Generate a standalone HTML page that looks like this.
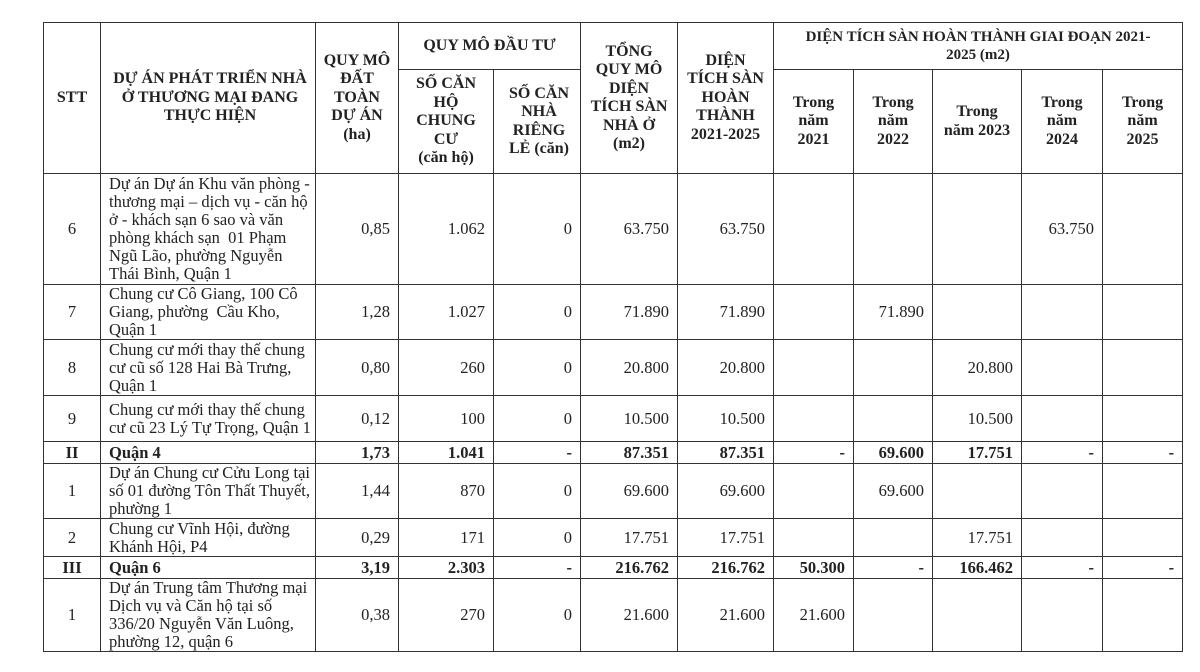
<!DOCTYPE html>
<html><head><meta charset="utf-8"><style>
html,body{margin:0;padding:0;background:#fff;width:1200px;height:672px;overflow:hidden}
table{position:absolute;left:43px;top:22px;width:1139px;border-collapse:collapse;table-layout:fixed;font-family:"Liberation Serif",serif;font-size:16.5px;color:#222;line-height:18px}
td{border:1.5px solid #333;padding:0 8px;overflow:hidden;white-space:nowrap}
td:nth-child(2){padding:0 4px 0 8px}
.h{font-weight:bold;text-align:center;font-size:16px;line-height:18.5px;padding:0 2px}
.c{text-align:center}.r{text-align:right}.b{font-weight:bold}
</style></head><body>
<table>
<colgroup><col style="width:57px"><col style="width:215px"><col style="width:83px"><col style="width:95px"><col style="width:87px"><col style="width:97px"><col style="width:96px"><col style="width:80px"><col style="width:79px"><col style="width:89px"><col style="width:81px"><col style="width:80px"></colgroup>
<tr style="height:47px"><td class="h" rowspan="2">STT</td><td class="h" rowspan="2">DỰ ÁN PHÁT TRIỂN NHÀ<br>Ở THƯƠNG MẠI ĐANG<br>THỰC HIỆN</td><td class="h" rowspan="2">QUY MÔ<br>ĐẤT<br>TOÀN<br>DỰ ÁN<br>(ha)</td><td class="h" colspan="2">QUY MÔ ĐẦU TƯ</td><td class="h" rowspan="2">TỔNG<br>QUY MÔ<br>DIỆN<br>TÍCH SÀN<br>NHÀ Ở<br>(m2)</td><td class="h" rowspan="2">DIỆN<br>TÍCH SÀN<br>HOÀN<br>THÀNH<br>2021-2025</td><td class="h" colspan="5" style="font-size:15px">DIỆN TÍCH SÀN HOÀN THÀNH GIAI ĐOẠN 2021-<br>2025 (m2)</td></tr>
<tr style="height:104px"><td class="h">SỐ CĂN<br>HỘ<br>CHUNG<br>CƯ<br>(căn hộ)</td><td class="h">SỐ CĂN<br>NHÀ<br>RIÊNG<br>LẺ (căn)</td><td class="h">Trong<br>năm<br>2021</td><td class="h">Trong<br>năm<br>2022</td><td class="h">Trong<br>năm 2023</td><td class="h">Trong<br>năm<br>2024</td><td class="h">Trong<br>năm<br>2025</td></tr>
<tr style="height:111px"><td class="c">6</td><td>Dự án Dự án Khu văn phòng -<br>thương mại – dịch vụ - căn hộ<br>ở - khách sạn 6 sao và văn<br>phòng khách sạn&nbsp; 01 Phạm<br>Ngũ Lão, phường Nguyễn<br>Thái Bình, Quận 1</td><td class="r">0,85</td><td class="r">1.062</td><td class="r">0</td><td class="r">63.750</td><td class="r">63.750</td><td></td><td></td><td></td><td class="r">63.750</td><td></td></tr>
<tr style="height:54px"><td class="c">7</td><td>Chung cư Cô Giang, 100 Cô<br>Giang, phường&nbsp; Cầu Kho,<br>Quận 1</td><td class="r">1,28</td><td class="r">1.027</td><td class="r">0</td><td class="r">71.890</td><td class="r">71.890</td><td></td><td class="r">71.890</td><td></td><td></td><td></td></tr>
<tr style="height:56px"><td class="c">8</td><td>Chung cư mới thay thế chung<br>cư cũ số 128 Hai Bà Trưng,<br>Quận 1</td><td class="r">0,80</td><td class="r">260</td><td class="r">0</td><td class="r">20.800</td><td class="r">20.800</td><td></td><td></td><td class="r">20.800</td><td></td><td></td></tr>
<tr style="height:46px"><td class="c">9</td><td>Chung cư mới thay thế chung<br>cư cũ 23 Lý Tự Trọng, Quận 1</td><td class="r">0,12</td><td class="r">100</td><td class="r">0</td><td class="r">10.500</td><td class="r">10.500</td><td></td><td></td><td class="r">10.500</td><td></td><td></td></tr>
<tr style="height:22px" class="b"><td class="c">II</td><td>Quận 4</td><td class="r">1,73</td><td class="r">1.041</td><td class="r">-</td><td class="r">87.351</td><td class="r">87.351</td><td class="r">-</td><td class="r">69.600</td><td class="r">17.751</td><td class="r">-</td><td class="r">-</td></tr>
<tr style="height:55px"><td class="c">1</td><td>Dự án Chung cư Cửu Long tại<br>số 01 đường Tôn Thất Thuyết,<br>phường 1</td><td class="r">1,44</td><td class="r">870</td><td class="r">0</td><td class="r">69.600</td><td class="r">69.600</td><td></td><td class="r">69.600</td><td></td><td></td><td></td></tr>
<tr style="height:38px"><td class="c">2</td><td>Chung cư Vĩnh Hội, đường<br>Khánh Hội, P4</td><td class="r">0,29</td><td class="r">171</td><td class="r">0</td><td class="r">17.751</td><td class="r">17.751</td><td></td><td></td><td class="r">17.751</td><td></td><td></td></tr>
<tr style="height:22px" class="b"><td class="c">III</td><td>Quận 6</td><td class="r">3,19</td><td class="r">2.303</td><td class="r">-</td><td class="r">216.762</td><td class="r">216.762</td><td class="r">50.300</td><td class="r">-</td><td class="r">166.462</td><td class="r">-</td><td class="r">-</td></tr>
<tr style="height:73px"><td class="c">1</td><td>Dự án Trung tâm Thương mại<br>Dịch vụ và Căn hộ tại số<br>336/20 Nguyễn Văn Luông,<br>phường 12, quận 6</td><td class="r">0,38</td><td class="r">270</td><td class="r">0</td><td class="r">21.600</td><td class="r">21.600</td><td class="r">21.600</td><td></td><td></td><td></td><td></td></tr>
</table>
</body></html>
